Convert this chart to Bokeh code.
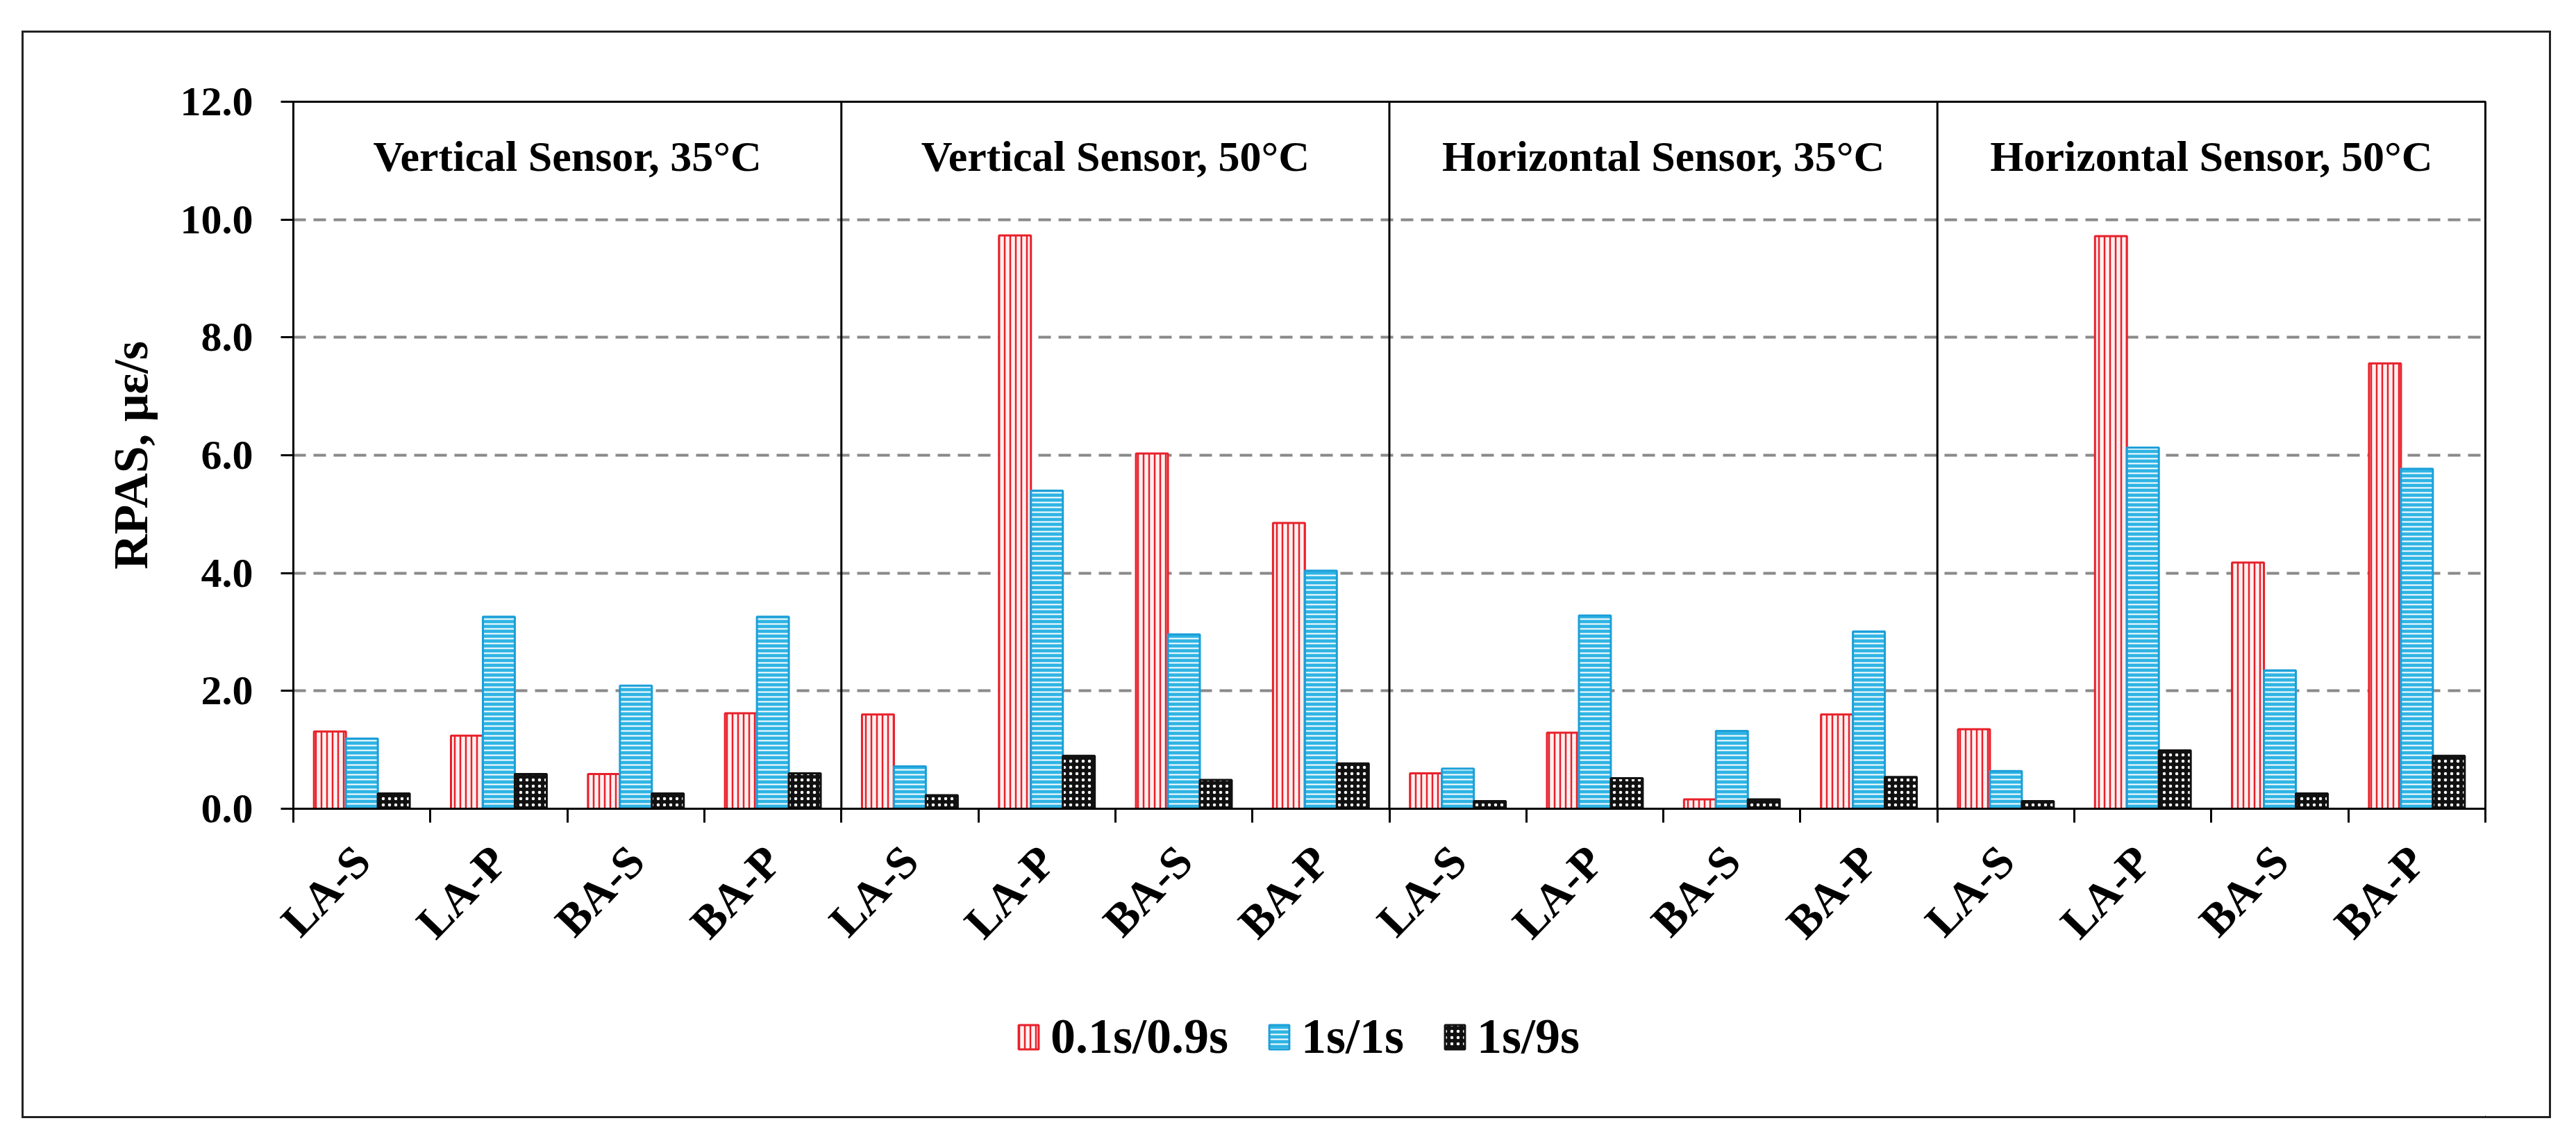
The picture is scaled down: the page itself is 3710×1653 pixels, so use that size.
import math
import numpy as np
from bokeh.plotting import figure
from bokeh.layouts import column
from bokeh.models import (FixedTicker, PrintfTickFormatter, Span, Title, Legend,
                          LegendItem)
from bokeh.core.properties import value
from bokeh.embed import file_html
from bokeh.resources import INLINE

# ---------------- data ----------------
panels = ["Vertical Sensor, 35°C", "Vertical Sensor, 50°C",
          "Horizontal Sensor, 35°C", "Horizontal Sensor, 50°C"]
categories = ["LA-S", "LA-P", "BA-S", "BA-P"]
series_names = ["0.1s/0.9s", "1s/1s", "1s/9s"]

rpas_01_09 = [1.31, 1.24, 0.59, 1.62,
              1.60, 9.73, 6.03, 4.85,
              0.60, 1.29, 0.16, 1.60,
              1.35, 9.72, 4.18, 7.56]
rpas_1_1 = [1.19, 3.26, 2.09, 3.26,
            0.72, 5.40, 2.96, 4.04,
            0.68, 3.28, 1.32, 3.01,
            0.64, 6.13, 2.35, 5.77]
rpas_1_9 = [0.26, 0.59, 0.26, 0.60,
            0.23, 0.90, 0.49, 0.77,
            0.13, 0.52, 0.16, 0.54,
            0.13, 0.99, 0.26, 0.90]

y_ticks = [0, 2, 4, 6, 8, 10, 12]
y_title = "RPAS, με/s"

# ---------------- styles ----------------
FONT = "Liberation Serif"
RED_STYLE = dict(fill_color="#fff0f0", line_color="#e8202a", line_width=3,
                 hatch_pattern="vertical_line", hatch_color="#e8202a",
                 hatch_scale=8, hatch_weight=2.5)
BLUE_STYLE = dict(fill_color="#2fb4e4", line_color="#1d9fd8", line_width=3,
                  hatch_pattern="horizontal_line", hatch_color="white",
                  hatch_scale=7, hatch_weight=2)
BLACK_STYLE = dict(fill_color="#111111", line_color="#111111", line_width=3,
                   hatch_pattern="dot", hatch_color="white",
                   hatch_scale=9, hatch_weight=3)

n_cat = len(categories)
n = len(panels) * n_cat
centers = np.arange(n) + 0.5
bar_w = 0.233

W = 3637
H_MAIN = 1350
H_LEG = 1560 - H_MAIN
TOP = 99
FRAME_H = 1018

p = figure(width=W, height=H_MAIN, x_range=(0, n), y_range=(0, 12),
           output_backend="svg", toolbar_location=None,
           min_border_left=388, min_border_right=92,
           min_border_top=TOP, min_border_bottom=H_MAIN - TOP - FRAME_H)
p.background_fill_color = "white"
p.border_fill_color = "white"
p.outline_line_color = "black"
p.outline_line_width = 3

# grid
p.xgrid.visible = False
p.ygrid.ticker = FixedTicker(ticks=[2, 4, 6, 8, 10])
p.ygrid.grid_line_color = "#8a8a8a"
p.ygrid.grid_line_dash = "18 11"
p.ygrid.grid_line_width = 4

# y axis
p.yaxis.ticker = FixedTicker(ticks=y_ticks, minor_ticks=[])
p.yaxis.formatter = PrintfTickFormatter(format="%.1f")
p.yaxis.major_tick_out = 18
p.yaxis.major_tick_in = 0
p.yaxis.major_tick_line_width = 3
p.yaxis.axis_line_width = 3
p.yaxis.major_label_standoff = 40
p.yaxis.major_label_text_font = FONT
p.yaxis.major_label_text_font_style = "bold"
p.yaxis.major_label_text_font_size = "60px"
p.yaxis.major_label_text_color = "black"

# x axis
p.xaxis.ticker = FixedTicker(ticks=list(centers), minor_ticks=list(range(n + 1)))
p.xaxis.major_label_overrides = {float(c): categories[i % n_cat] for i, c in enumerate(centers)}
p.xaxis.major_tick_out = 0
p.xaxis.major_tick_in = 0
p.xaxis.minor_tick_out = 20
p.xaxis.minor_tick_in = 0
p.xaxis.minor_tick_line_width = 3
p.xaxis.minor_tick_line_color = "black"
p.xaxis.axis_line_width = 3
p.xaxis.major_label_orientation = math.radians(46)
p.xaxis.major_label_standoff = 44
p.xaxis.major_label_text_font = FONT
p.xaxis.major_label_text_font_style = "bold"
p.xaxis.major_label_text_font_size = "66px"
p.xaxis.major_label_text_color = "black"

# y axis title
p.add_layout(Title(text=y_title, align="center",
                   text_font=FONT, text_font_style="bold",
                   text_font_size="70px", text_color="black",
                   standoff=59), "left")

# panel dividers
for k in range(1, len(panels)):
    p.add_layout(Span(location=k * n_cat, dimension="height",
                      line_color="black", line_width=3))

# bars
p.vbar(x=centers - bar_w, top=rpas_01_09, width=bar_w, bottom=0, **RED_STYLE)
p.vbar(x=centers, top=rpas_1_1, width=bar_w, bottom=0, **BLUE_STYLE)
p.vbar(x=centers + bar_w, top=rpas_1_9, width=bar_w, bottom=0, **BLACK_STYLE)

# panel titles
p.text(x=[n_cat * (k + 0.5) for k in range(len(panels))], y=[11.08] * len(panels),
       text=panels, text_align="center", text_baseline="alphabetic",
       text_font=value(FONT), text_font_style="bold", text_font_size="62px",
       text_color="black")

# ---------------- legend strip ----------------
q = figure(width=W, height=H_LEG, x_range=(0, 1), y_range=(0, 1),
           output_backend="svg", toolbar_location=None,
           min_border_left=0, min_border_right=0, min_border_top=0,
           min_border_bottom=0)
q.axis.visible = False
q.grid.visible = False
q.outline_line_color = None
q.background_fill_color = "white"
q.border_fill_color = "white"
# legend-only renderers (their single bar lies outside the visible range)
l1 = q.vbar(x=[5], top=[0], width=0.1, **RED_STYLE)
l2 = q.vbar(x=[5], top=[0], width=0.1, **BLUE_STYLE)
l3 = q.vbar(x=[5], top=[0], width=0.1, **BLACK_STYLE)
legend = Legend(items=[LegendItem(label=series_names[0], renderers=[l1]),
                       LegendItem(label=series_names[1], renderers=[l2]),
                       LegendItem(label=series_names[2], renderers=[l3])],
                orientation="horizontal", location=(1041, 73),
                border_line_color=None, background_fill_alpha=0,
                label_text_font=FONT, label_text_font_size="72px",
                label_text_font_style="bold",
                label_text_color="black",
                glyph_width=36, glyph_height=44, spacing=55, label_standoff=14,
                padding=0, margin=0)
q.add_layout(legend, "center")

page = column(p, q, spacing=0)
page.margin = (44, 0, 0, 31)
page.styles = {"border": "3px solid #222"}

open("out.html", "w").write(file_html(page, INLINE))
